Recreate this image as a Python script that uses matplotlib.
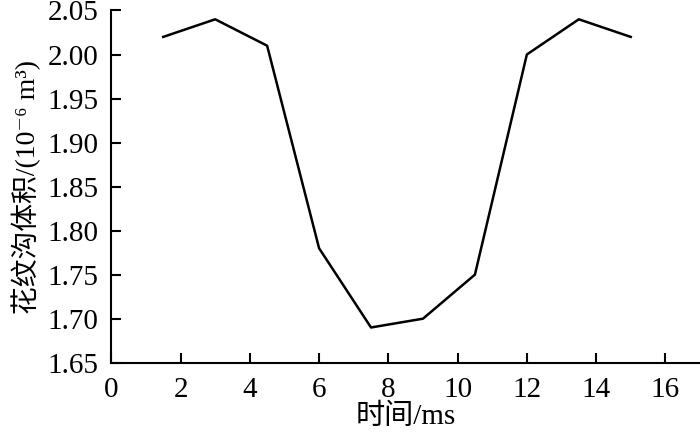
import matplotlib
matplotlib.use('Agg')
import matplotlib.pyplot as plt

plt.rcParams['font.family'] = ['Liberation Serif', 'Noto Sans CJK SC', 'DejaVu Serif']

# data
time_ms = [1.5, 3, 4.5, 6, 7.5, 9, 10.5, 12, 13.5, 15]
volume = [2.02, 2.04, 2.01, 1.78, 1.69, 1.70, 1.75, 2.00, 2.04, 2.02]
x_ticks = [0, 2, 4, 6, 8, 10, 12, 14, 16]
y_ticks = [1.65, 1.70, 1.75, 1.80, 1.85, 1.90, 1.95, 2.00, 2.05]

fig = plt.figure(figsize=(7, 4.37), dpi=100)
ax = fig.add_axes([0.159, 0.170, 0.841, 0.806])
ax.plot(time_ms, volume, color='black', lw=1.8)

ax.set_xlim(0, 17)
ax.set_ylim(1.65, 2.05)
ax.set_xticks(x_ticks)
ax.set_yticks(y_ticks)
ax.set_yticklabels(['%.2f' % v for v in y_ticks])
ax.spines['top'].set_visible(False)
ax.spines['right'].set_visible(False)
for s in ['left', 'bottom']:
    ax.spines[s].set_linewidth(1.5)
ax.tick_params(direction='in', length=7, width=1.5, labelsize=21)
ax.tick_params(axis='x', pad=10)
ax.tick_params(axis='y', pad=9)

ax.set_xlabel('时间/ms', fontsize=21, labelpad=1)
ax.set_ylabel('花纹沟体积/(10⁻⁶ m³)', fontsize=20, labelpad=5)

fig.savefig('out.png', dpi=100)
